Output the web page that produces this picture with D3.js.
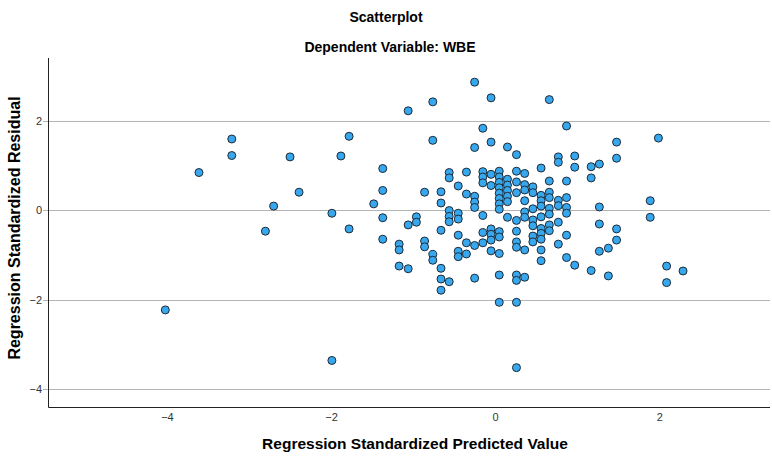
<!DOCTYPE html>
<html>
<head>
<meta charset="utf-8">
<script src="https://cdn.jsdelivr.net/npm/d3@7"></script>
<style>
  body { margin: 0; background: #fff; }
  svg text { font-family: 'Liberation Sans', Arial, sans-serif; }
</style>
</head>
<body>
<div id="chart"></div>
<script>
// Residual scatter, read off the SPSS output. Points are listed column by
// column (predicted values come out in steps of about 0.1)
var predicted = [
  -4.02, -3.61, -3.21, -3.21, -2.80, -2.70, -2.50, -2.39, -1.99, -1.99,
  -1.88, -1.78, -1.78, -1.48,
  -1.37, -1.37, -1.37, -1.37,
  -1.17, -1.17, -1.17,
  -1.06, -1.06, -1.06,
  -0.96, -0.96,
  -0.86, -0.86, -0.86,
  -0.76, -0.76, -0.76, -0.76,
  -0.66, -0.66, -0.66, -0.66, -0.66, -0.66,
  -0.56, -0.56, -0.56, -0.56, -0.56, -0.56,
  -0.45, -0.45, -0.45, -0.45, -0.45, -0.45,
  -0.35, -0.35, -0.35, -0.35,
  -0.25, -0.25, -0.25, -0.25, -0.25, -0.25, -0.25,
  -0.15, -0.15, -0.15, -0.15, -0.15, -0.15, -0.15,
  -0.05, -0.05, -0.05, -0.05, -0.05, -0.05, -0.05, -0.05,
  0.05, 0.05, 0.05, 0.05, 0.05, 0.05, 0.05, 0.05, 0.05, 0.05, 0.05, 0.05, 0.05,
  0.15, 0.15, 0.15, 0.15, 0.15, 0.15, 0.15,
  0.26, 0.26, 0.26, 0.26, 0.26, 0.26, 0.26, 0.26, 0.26, 0.26, 0.26, 0.26,
  0.36, 0.36, 0.36, 0.36, 0.36, 0.36, 0.36, 0.36,
  0.46, 0.46, 0.46, 0.46, 0.46, 0.46, 0.46,
  0.56, 0.56, 0.56, 0.56, 0.56, 0.56, 0.56, 0.56, 0.56, 0.56,
  0.66, 0.66, 0.66, 0.66, 0.66, 0.66, 0.66, 0.66,
  0.77, 0.77, 0.77, 0.77, 0.77, 0.77,
  0.87, 0.87, 0.87, 0.87, 0.87, 0.87, 0.87,
  0.97, 0.97, 0.97,
  1.17, 1.17, 1.17,
  1.27, 1.27, 1.27, 1.27,
  1.38, 1.38,
  1.48, 1.48, 1.48, 1.48,
  1.89, 1.89, 1.99, 2.09, 2.09, 2.29
];

var residual = [
  -2.23, 0.84, 1.59, 1.22, -0.47, 0.09, 1.19, 0.40, -0.07, -3.36,
  1.21, 1.65, -0.42, 0.14,
  0.93, 0.44, -0.17, -0.65,
  -0.76, -0.89, -1.25,
  2.22, -0.33, -1.31,
  -0.15, -0.27,
  0.40, -0.69, -0.82,
  2.42, 1.56, -0.99, -1.12,
  0.41, 0.16, -0.45, -1.30, -1.54, -1.79,
  0.84, 0.72, -0.01, -0.14, -0.26, -1.60,
  0.54, -0.07, -0.20, -0.56, -0.92, -1.04,
  0.85, 0.36, -0.73, -0.98,
  2.86, 1.40, 0.31, 0.18, 0.06, -0.79, -1.52,
  1.83, 0.86, 0.74, 0.61, -0.12, -0.50, -0.73,
  2.51, 1.52, 0.80, 0.55, -0.42, -0.54, -0.67, -0.91,
  0.87, 0.74, 0.62, 0.50, 0.38, 0.26, 0.14, 0.02, -0.48, -0.60, -0.97, -1.45, -2.06,
  1.41, 0.69, 0.56, 0.44, 0.31, 0.19, -0.16,
  1.24, 0.87, 0.63, 0.39, -0.23, -0.47, -0.71, -0.83, -1.45, -1.57, -2.06, -3.52,
  0.82, 0.57, 0.45, 0.21, -0.04, -0.16, -0.89, -1.50,
  0.52, 0.39, 0.03, -0.22, -0.35, -0.58, -0.71,
  0.94, 0.33, 0.21, 0.09, -0.15, -0.41, -0.52, -0.65, -0.89, -1.13,
  2.47, 0.65, 0.40, 0.28, 0.04, -0.09, -0.33, -0.46,
  1.19, 1.07, 0.22, 0.10, -0.27, -0.76,
  1.88, 0.65, 0.28, 0.06, -0.07, -0.56, -1.06,
  1.21, 0.96, -1.23,
  0.97, 0.72, -1.35,
  1.03, 0.07, -0.31, -0.92,
  -0.85, -1.47,
  1.52, 1.16, -0.42, -0.67,
  0.21, -0.16, 1.61, -1.25, -1.62, -1.36
];

var xTicks = [-4, -2, 0, 2];
var yTicks = [-4, -2, 0, 2];

var width = 772, height = 456;
var plot = {left: 48, right: 770, top: 58, bottom: 407};

var svg = d3.select('#chart')
  .append('svg')
  .attr('width', width)
  .attr('height', height);

var x = d3.scaleLinear().domain([-5.45, 3.35]).range([plot.left, plot.right]);
var y = d3.scaleLinear().domain([-4.4, 3.4]).range([plot.bottom, plot.top]);

// titles
svg.append('text')
  .attr('x', 386).attr('y', 22)
  .attr('text-anchor', 'middle')
  .attr('font-size', 14).attr('font-weight', 'bold')
  .text('Scatterplot');
svg.append('text')
  .attr('x', 390).attr('y', 52)
  .attr('text-anchor', 'middle')
  .attr('font-size', 14).attr('font-weight', 'bold')
  .text('Dependent Variable: WBE');

// horizontal reference lines at the y ticks, with short ticks left of the axis
svg.append('g')
  .selectAll('line')
  .data(yTicks)
  .enter()
  .append('line')
  .attr('x1', plot.left - 5)
  .attr('x2', plot.right)
  .attr('y1', function(d) { return Math.round(y(d)) + 0.5; })
  .attr('y2', function(d) { return Math.round(y(d)) + 0.5; })
  .attr('stroke', '#b4b4b4')
  .attr('stroke-width', 1);

var yAxis = svg.append('g')
  .attr('transform', 'translate(' + (plot.left - 6) + ',0)')
  .call(d3.axisLeft(y).tickValues(yTicks).tickSize(0).tickPadding(0).tickFormat(d3.format('d')));
yAxis.select('.domain').remove();
yAxis.selectAll('text')
  .attr('font-size', 11)
  .attr('fill', '#333');

var xAxis = svg.append('g')
  .attr('transform', 'translate(0,' + (plot.bottom + 6) + ')')
  .call(d3.axisBottom(x).tickValues(xTicks).tickSize(0).tickPadding(0).tickFormat(d3.format('d')));
xAxis.select('.domain').remove();
xAxis.selectAll('text')
  .attr('font-size', 11)
  .attr('fill', '#333');

// axis frame: only left and bottom
svg.append('path')
  .attr('d', 'M' + (plot.left + 0.5) + ',' + plot.top +
    'V' + (plot.bottom + 0.5) + 'H' + plot.right)
  .attr('fill', 'none')
  .attr('stroke', '#222')
  .attr('stroke-width', 1);

// the points
svg.append('g')
  .selectAll('circle')
  .data(d3.range(predicted.length))
  .enter()
  .append('circle')
  .attr('cx', function(i) { return x(predicted[i]); })
  .attr('cy', function(i) { return y(residual[i]); })
  .attr('r', 4)
  .attr('fill', '#37a8ee')
  .attr('stroke', '#1f2a36')
  .attr('stroke-width', 1);

// axis titles
svg.append('text')
  .attr('x', 415).attr('y', 449)
  .attr('text-anchor', 'middle')
  .attr('font-size', 15.5).attr('font-weight', 'bold')
  .text('Regression Standardized Predicted Value');
svg.append('text')
  .attr('transform', 'translate(20,' + 228 + ') rotate(-90)')
  .attr('text-anchor', 'middle')
  .attr('font-size', 16).attr('font-weight', 'bold')
  .text('Regression Standardized Residual');
</script>
</body>
</html>
